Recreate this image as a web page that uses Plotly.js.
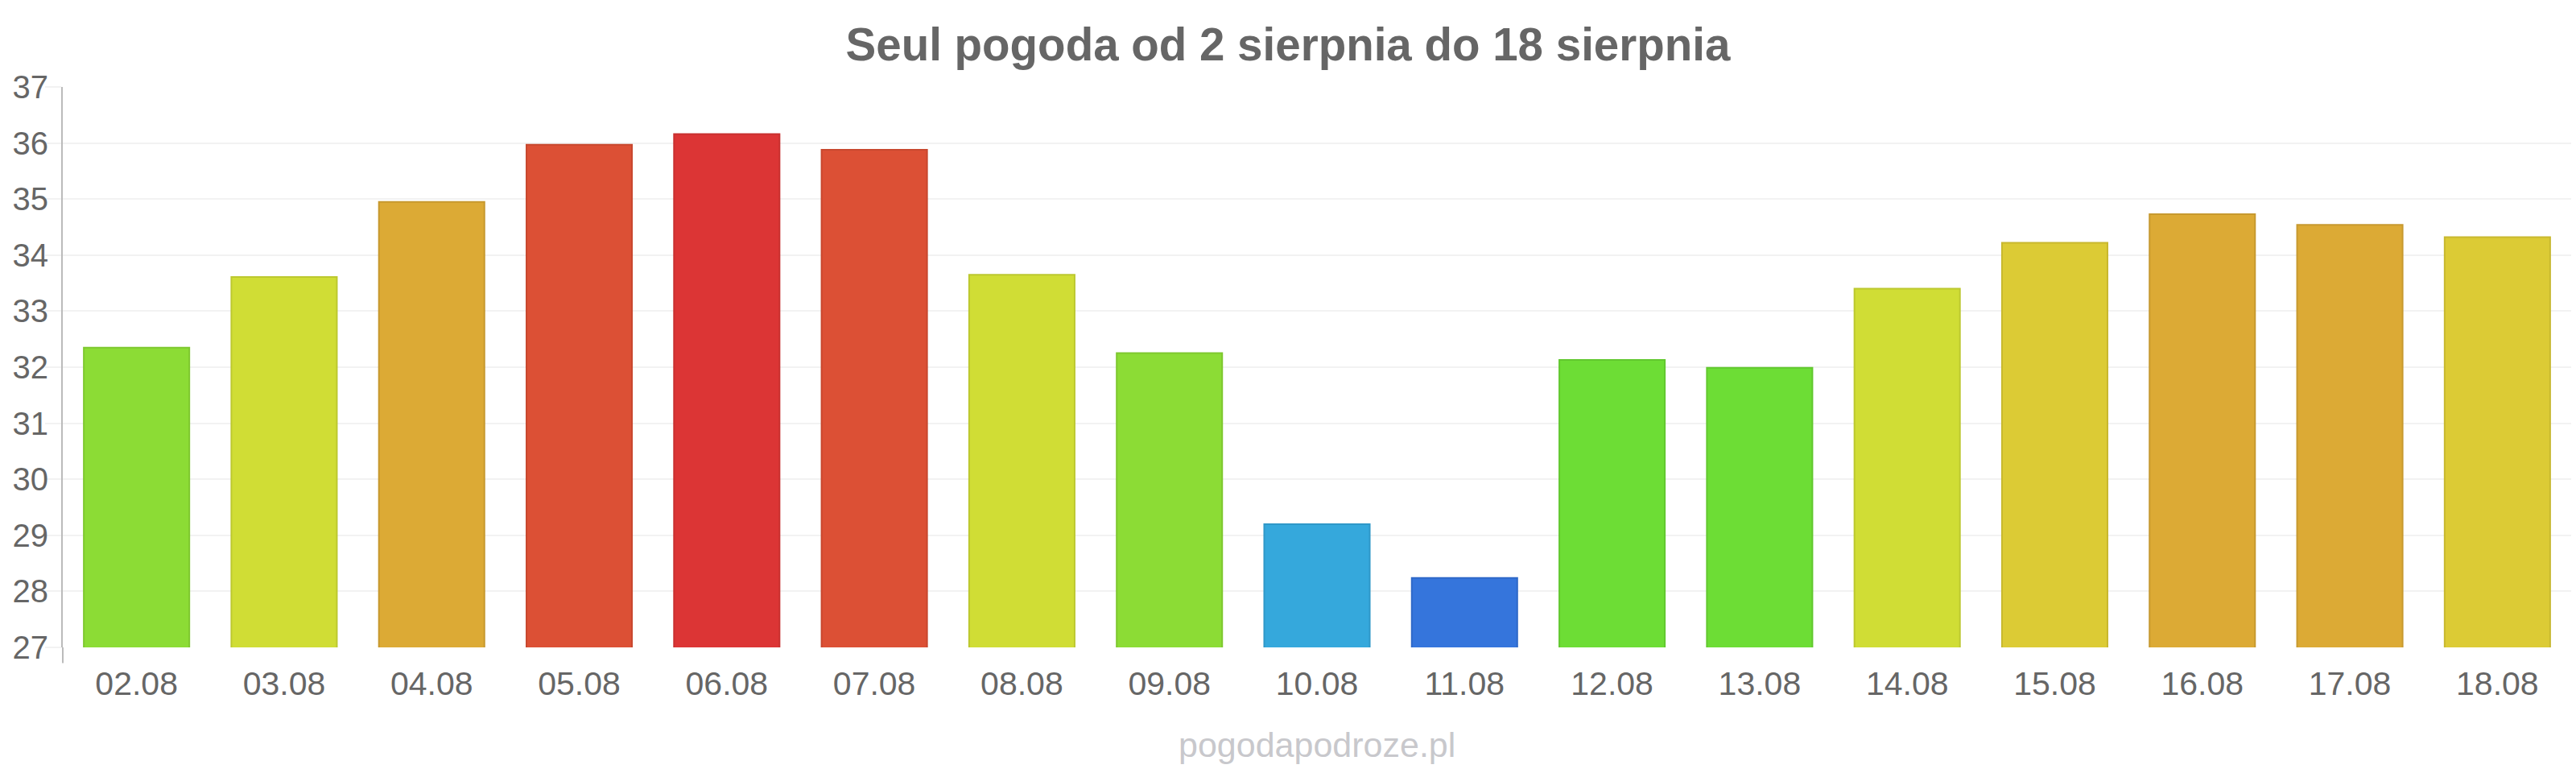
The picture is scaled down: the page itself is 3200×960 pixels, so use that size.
<!DOCTYPE html>
<html>
<head>
<meta charset="utf-8">
<script src="https://cdn.plot.ly/plotly-3.0.1.min.js"></script>
<style>
  html, body { margin: 0; padding: 0; background: #fff; }
  #chart { width: 3200px; height: 960px; }
</style>
</head>
<body>
<div id="chart"></div>
<script>
// days and max temperature
const days = ['02.08', '03.08', '04.08', '05.08', '06.08', '07.08', '08.08', '09.08', '10.08',
              '11.08', '12.08', '13.08', '14.08', '15.08', '16.08', '17.08', '18.08'];
const temps = [32.35, 33.61, 34.95, 35.97, 36.16, 35.88, 33.65, 32.25, 29.2,
               28.24, 32.13, 31.99, 33.4, 34.22, 34.73, 34.54, 34.32];
const yTicks = [27, 28, 29, 30, 31, 32, 33, 34, 35, 36, 37];

// bar colours (fill, then the slightly darker edge)
const barFill = ['#8cdc35', '#d0dd35', '#dcaa35', '#dc5035', '#dc3535', '#dc5035', '#d0dd35',
                 '#8cdc35', '#35a8dc', '#3575dc', '#6ddd35', '#6ddd35', '#d0dd35', '#dccb35',
                 '#dcaa35', '#dcaa35', '#dccb35'];
const barEdge = ['#7ec82f', '#bcc82f', '#c7992f', '#c8482f', '#c8302f', '#c8482f', '#bcc82f',
                 '#7ec82f', '#2f98c8', '#2f69c8', '#62c82f', '#62c82f', '#bcc82f', '#c8b82f',
                 '#c7992f', '#c7992f', '#c8b82f'];

const textGrey = '#666666';

const trace = {
    type: 'bar',
    x: days,
    y: temps,
    marker: {
        color: barFill,
        line: { color: barEdge, width: 2 }
    },
    hoverinfo: 'x+y'
};

const layout = {
    width: 3200,
    height: 960,
    margin: { l: 78, r: 6, t: 108, b: 156 },
    paper_bgcolor: '#ffffff',
    plot_bgcolor: '#ffffff',
    bargap: 0.285,
    showlegend: false,
    font: { family: 'Liberation Sans, Arial, sans-serif', color: textGrey },
    title: {
        text: '<b>Seul pogoda od 2 sierpnia do 18 sierpnia</b>',
        font: { family: 'Liberation Sans, Arial, sans-serif', size: 56.5, color: textGrey },
        x: 0.5,
        xanchor: 'center',
        y: 1 - 55 / 960,
        yanchor: 'middle',
        yref: 'container'
    },
    xaxis: {
        type: 'category',
        showgrid: false,
        showline: false,
        zeroline: false,
        ticks: '',
        ticklabelstandoff: 17,
        tickfont: { size: 41, color: textGrey }
    },
    yaxis: {
        range: [27, 37],
        tickvals: yTicks,
        showgrid: true,
        gridcolor: '#f2f2f2',
        gridwidth: 2,
        zeroline: false,
        showline: true,
        linecolor: '#bbbbbb',
        linewidth: 2,
        ticks: 'outside',
        ticklen: 20,
        tickcolor: '#f2f2f2',
        tickwidth: 2,
        ticklabelstandoff: -12,
        tickfont: { size: 40, color: textGrey }
    },
    shapes: [{
        // the y axis line runs a little past the bottom of the plot
        type: 'line',
        xref: 'paper', yref: 'paper',
        x0: 0, x1: 0, y0: -0.028, y1: 0,
        line: { color: '#bbbbbb', width: 2 }
    }],
    annotations: [{
        text: 'pogodapodroze.pl',
        xref: 'paper', yref: 'paper',
        x: 0.5, y: -0.174,
        xanchor: 'center', yanchor: 'middle',
        showarrow: false,
        font: { family: 'Liberation Sans, Arial, sans-serif', size: 43, color: '#c8c8cc' }
    }]
};

Plotly.newPlot('chart', [trace], layout, { displayModeBar: false, staticPlot: true });
</script>
</body>
</html>
